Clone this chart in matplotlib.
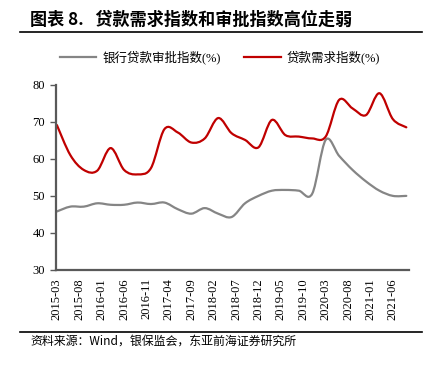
import matplotlib
matplotlib.use("Agg")
import matplotlib.pyplot as plt
import numpy as np
import pandas as pd
from matplotlib.path import Path
from matplotlib.patches import PathPatch
from matplotlib.lines import Line2D

plt.rcParams['font.family'] = ['Liberation Serif', 'Noto Sans CJK SC', 'DejaVu Sans']

quarters = ["2015-03", "2015-06", "2015-09", "2015-12", "2016-03", "2016-06", "2016-09", "2016-12",
            "2017-03", "2017-06", "2017-09", "2017-12", "2018-03", "2018-06", "2018-09", "2018-12",
            "2019-03", "2019-06", "2019-09", "2019-12", "2020-03", "2020-06", "2020-09", "2020-12",
            "2021-03", "2021-06", "2021-09"]
approval = [45.8, 47.1, 47.1, 48.0, 47.6, 47.6, 48.2, 47.8,
            48.2, 46.4, 45.2, 46.7, 45.2, 44.3, 48.0, 50.0,
            51.4, 51.6, 51.4, 50.6, 65.1, 60.8, 57.0, 53.9,
            51.4, 50.0, 50.0]
demand = [69.1, 61.0, 57.0, 56.8, 62.9, 57.0, 55.8, 57.5,
          68.0, 67.1, 64.4, 65.5, 71.0, 66.9, 65.1, 63.1,
          70.5, 66.4, 66.0, 65.5, 66.0, 75.9, 73.6, 71.8,
          77.7, 70.7, 68.5]
tick_labels = ["2015-03", "2015-08", "2016-01", "2016-06", "2016-11", "2017-04", "2017-09", "2018-02",
               "2018-07", "2018-12", "2019-05", "2019-10", "2020-03", "2020-08", "2021-01", "2021-06"]
series_names = ["银行贷款审批指数(%)", "贷款需求指数(%)"]
title = "图表 8.   贷款需求指数和审批指数高位走弱"
source = "资料来源：Wind，银保监会，东亚前海证券研究所"


def month_index(labels):
    d = pd.to_datetime(labels, format="%Y-%m")
    return np.array((d.year - 2015) * 12 + d.month - 3, dtype=float)


def smooth_path(x, y):
    pts = np.column_stack([x, y])
    n = len(pts)
    verts = [pts[0]]
    codes = [Path.MOVETO]
    for i in range(n - 1):
        p0 = pts[i - 1] if i > 0 else pts[i]
        p1 = pts[i]
        p2 = pts[i + 1]
        p3 = pts[i + 2] if i + 2 < n else pts[i + 1]
        c1 = p1 + (p2 - p0) / 6.0
        c2 = p2 - (p3 - p1) / 6.0
        verts += [c1, c2, p2]
        codes += [Path.CURVE4] * 3
    return Path(verts, codes)


fig = plt.figure(figsize=(4.4, 3.68), dpi=100)
ax = fig.add_axes([56 / 440, 1 - 270 / 368, (409 - 56) / 440, (270 - 84.7) / 368])

xq = month_index(quarters)
gray = "#858585"
red = "#C00000"
for yv, col in [(approval, gray), (demand, red)]:
    patch = PathPatch(smooth_path(xq, np.array(yv)), facecolor="none", edgecolor=col, lw=1.6,
                      capstyle="round", joinstyle="round")
    ax.add_patch(patch)

ax.set_xlim(-0.2, 78.6)
ax.set_ylim(30, 80)
ax.set_yticks(range(30, 81, 10))
ax.set_xticks(month_index(tick_labels))
ax.set_xticklabels(tick_labels, rotation=90)
ax.tick_params(axis='x', length=0, pad=6, labelsize=9, colors="#000000")
ax.tick_params(axis='y', length=4, width=1, direction='out', pad=4, labelsize=9, color="#595959")
for s in ["top", "right"]:
    ax.spines[s].set_visible(False)
for s in ["left", "bottom"]:
    ax.spines[s].set_color("#595959")
    ax.spines[s].set_linewidth(1.6)

# legend
handles = [Line2D([], [], color=gray, lw=1.6), Line2D([], [], color=red, lw=1.6)]
fig.legend(handles, series_names, loc="center", bbox_to_anchor=(220 / 440, 1 - 57 / 368), ncol=2,
           frameon=False, handlelength=2.9, columnspacing=1.9, handletextpad=0.5,
           prop={'family': ['Liberation Serif', 'Noto Sans CJK SC'], 'size': 9.0})

# title and rules
fig.text(30 / 440, 1 - 20 / 368, title, fontsize=12.3, fontweight="bold", va="center", ha="left",
         family=['Noto Sans CJK SC', 'DejaVu Sans'])
fig.add_artist(Line2D([20 / 440, 422 / 440], [1 - 32 / 368] * 2, color="#000000", lw=1.2))
fig.add_artist(Line2D([20 / 440, 422 / 440], [1 - 331.5 / 368] * 2, color="#000000", lw=1.2))
fig.text(30 / 440, 1 - 341 / 368, source, fontsize=8.6, va="center", ha="left",
         family=['Noto Sans CJK SC', 'DejaVu Sans'])

fig.savefig("out.png", dpi=100)
